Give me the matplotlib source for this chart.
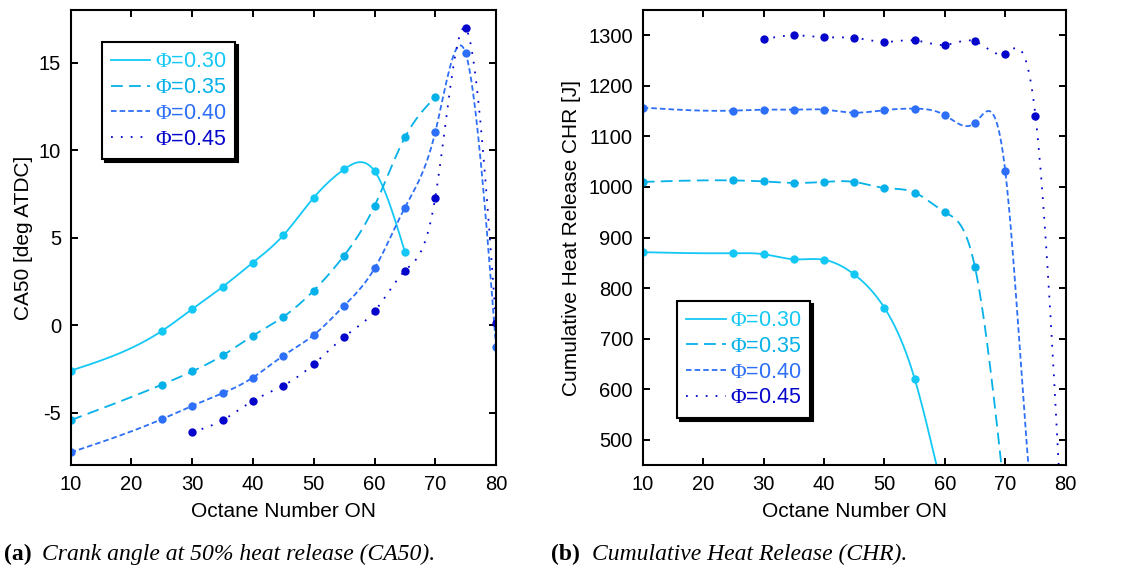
import numpy as np
import matplotlib
matplotlib.use("Agg")
import matplotlib.pyplot as plt
from matplotlib.lines import Line2D

plt.rcParams["font.family"] = ["Liberation Sans", "DejaVu Sans"]
plt.rcParams["mathtext.fontset"] = "custom"
plt.rcParams["mathtext.rm"] = "Liberation Serif"
plt.rcParams["lines.scale_dashes"] = False
plt.rcParams["axes.unicode_minus"] = False

# equivalence ratios
phi_labels = ["0.30", "0.35", "0.40", "0.45"]
colors = ["#14c8f5", "#05b1e8", "#2d6ff7", "#0505cc"]
dashes = [None, (8.5, 4.5), (4.0, 2.2), (1.3, 5.8)]

# CA50 [deg ATDC] vs octane number
on_ca50 = [
    [10, 25, 30, 35, 40, 45, 50, 55, 60, 65],
    [10, 25, 30, 35, 40, 45, 50, 55, 60, 65, 70],
    [10, 25, 30, 35, 40, 45, 50, 55, 60, 65, 70, 75, 80],
    [30, 35, 40, 45, 50, 55, 60, 65, 70, 75, 80],
]
ca50 = [
    [-2.61, -0.34, 0.91, 2.18, 3.57, 5.13, 7.28, 8.90, 8.80, 4.18],
    [-5.44, -3.41, -2.65, -1.74, -0.61, 0.47, 1.97, 3.97, 6.80, 10.72, 13.02],
    [-7.28, -5.38, -4.62, -3.90, -3.00, -1.75, -0.57, 1.10, 3.23, 6.71, 11.02, 15.53, -1.25],
    [-6.12, -5.44, -4.33, -3.46, -2.24, -0.68, 0.78, 3.10, 7.28, 16.95, 0.11],
]

# cumulative heat release [J] vs octane number
on_chr = [
    [10, 25, 30, 35, 40, 45, 50, 55, 60, 65],
    [10, 25, 30, 35, 40, 45, 50, 55, 60, 65, 70],
    [10, 25, 30, 35, 40, 45, 50, 55, 60, 65, 70, 75, 80],
    [30, 35, 40, 45, 50, 55, 60, 65, 70, 75, 80],
]
chr_j = [
    [871, 869, 867, 857, 856, 827, 761, 621, 380, 150],
    [1010, 1013, 1011, 1008, 1010, 1010, 998, 989, 950, 841, 380],
    [1157, 1151, 1153, 1153, 1153, 1147, 1152, 1155, 1142, 1127, 1032, 300, 250],
    [1292, 1300, 1296, 1295, 1287, 1290, 1281, 1288, 1264, 1141, 180],
]


def natural_spline(x, y, n=600):
    # natural cubic spline through (x, y), like gnuplot's csplines
    x = np.asarray(x, float)
    y = np.asarray(y, float)
    h = np.diff(x)
    m = len(x)
    A = np.zeros((m, m))
    r = np.zeros(m)
    A[0, 0] = A[-1, -1] = 1.0
    for i in range(1, m - 1):
        A[i, i - 1] = h[i - 1]
        A[i, i] = 2 * (h[i - 1] + h[i])
        A[i, i + 1] = h[i]
        r[i] = 6 * ((y[i + 1] - y[i]) / h[i] - (y[i] - y[i - 1]) / h[i - 1])
    M = np.linalg.solve(A, r)
    xs = np.linspace(x[0], x[-1], n)
    k = np.clip(np.searchsorted(x, xs) - 1, 0, m - 2)
    t0 = x[k + 1] - xs
    t1 = xs - x[k]
    hk = h[k]
    ys = (M[k] * t0**3 / (6 * hk) + M[k + 1] * t1**3 / (6 * hk)
          + (y[k] / hk - M[k] * hk / 6) * t0 + (y[k + 1] / hk - M[k + 1] * hk / 6) * t1)
    return xs, ys


fig = plt.figure(figsize=(11.24, 5.70), dpi=100)
ax1 = fig.add_axes([0.0629, 0.1842, 0.3784, 0.7982])
ax2 = fig.add_axes([0.5718, 0.1842, 0.3763, 0.7982])


def draw(ax, xs_all, ys_all):
    for xs, ys, c, d in zip(xs_all, ys_all, colors, dashes):
        sx, sy = natural_spline(xs, ys)
        line, = ax.plot(sx, sy, color=c, lw=1.3)
        if d is not None:
            line.set_dashes(d)
        ax.plot(xs, ys, "o", color=c, ms=6, mew=0)


def style(ax):
    ax.set_xlim(10, 80)
    ax.set_xticks(range(10, 81, 10))
    ax.tick_params(direction="in", length=5, width=1.4, top=True, right=True,
                   labelsize=14.5, pad=7)
    for s in ax.spines.values():
        s.set_linewidth(1.5)
    ax.set_xlabel("Octane Number ON", fontsize=15, labelpad=6)


def legend(ax, anchor):
    handles = []
    for c, d in zip(colors, dashes):
        h = Line2D([], [], color=c, lw=1.3)
        if d is not None:
            h.set_dashes(d)
        handles.append(h)
    labels = [r"$\mathrm{\Phi}$=" + p for p in phi_labels]
    leg = ax.legend(handles, labels, loc="upper left", bbox_to_anchor=anchor,
                    borderaxespad=0, fontsize=15.5, labelcolor=colors,
                    frameon=True, fancybox=False, handlelength=1.85,
                    handletextpad=0.2, labelspacing=0.22, borderpad=0.42,
                    shadow={"ox": 2.2, "oy": -2.2, "facecolor": "black",
                            "edgecolor": "black", "alpha": 1})
    leg.get_frame().set_edgecolor("black")
    leg.get_frame().set_linewidth(1.5)


draw(ax1, on_ca50, ca50)
style(ax1)
ax1.set_ylim(-8, 18)
ax1.set_yticks([-5, 0, 5, 10, 15])
ax1.set_ylabel("CA50 [deg ATDC]", fontsize=15, labelpad=4)
legend(ax1, (0.0726, 0.929))

draw(ax2, on_chr, chr_j)
style(ax2)
ax2.set_ylim(450, 1350)
ax2.set_yticks(range(500, 1301, 100))
ax2.set_ylabel("Cumulative Heat Release CHR [J]", fontsize=15, labelpad=5)
legend(ax2, (0.0806, 0.360))

# sub-figure captions
fig.text(0.004, 0.018, "(a)", family="Liberation Serif", weight="bold", fontsize=17)
fig.text(0.037, 0.018, "Crank angle at 50% heat release (CA50).",
         family="Liberation Serif", style="italic", fontsize=17)
fig.text(0.490, 0.018, "(b)", family="Liberation Serif", weight="bold", fontsize=17)
fig.text(0.527, 0.018, "Cumulative Heat Release (CHR).",
         family="Liberation Serif", style="italic", fontsize=17)

fig.savefig("out.png", dpi=100)
